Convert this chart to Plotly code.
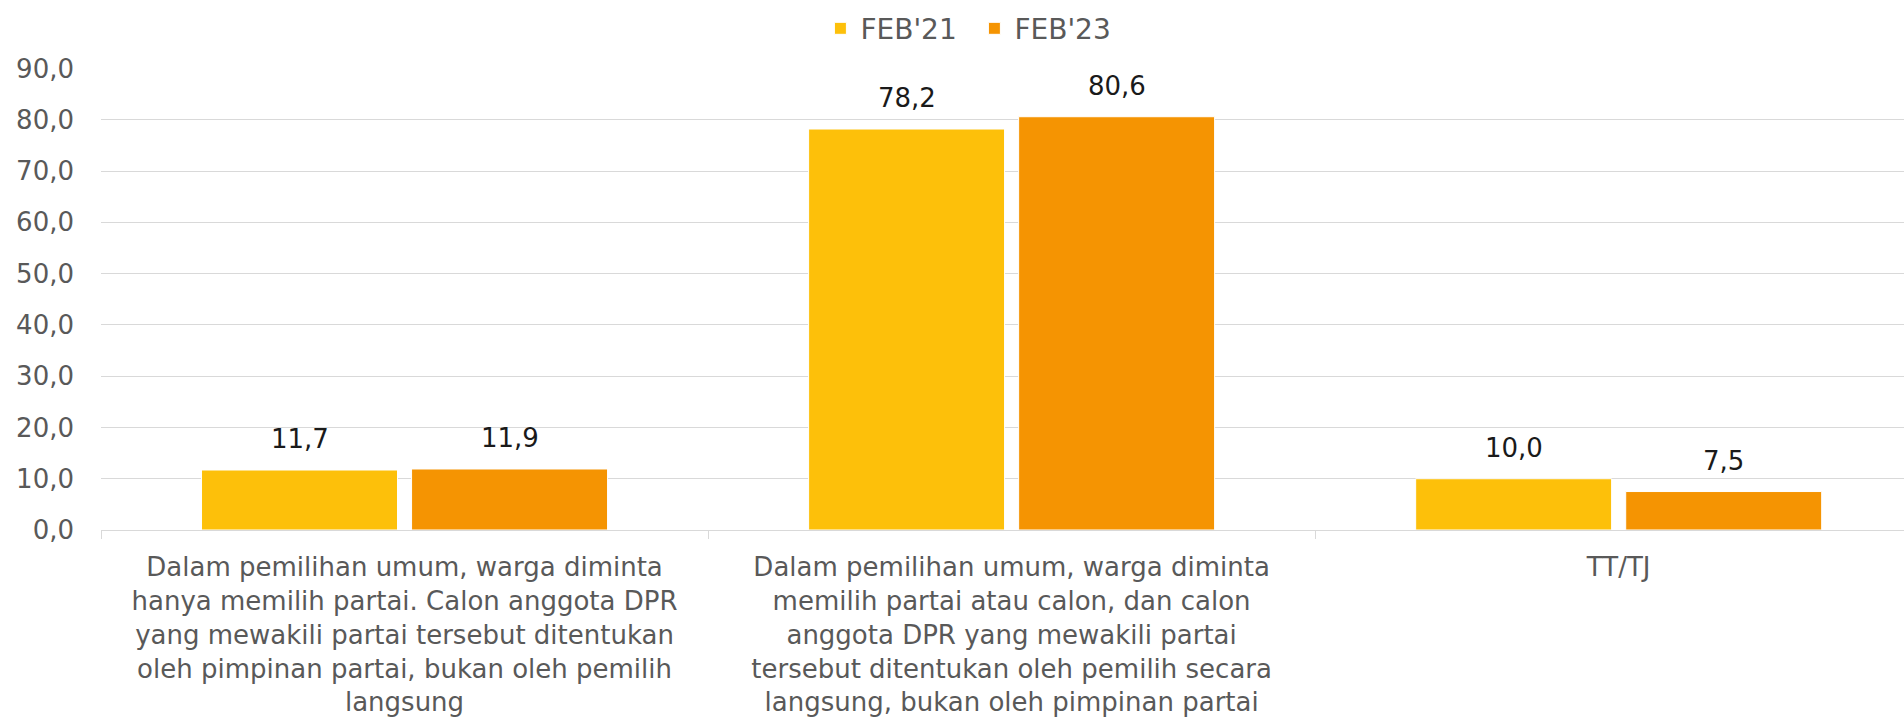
import plotly.graph_objects as go

categories = [
    "Dalam pemilihan umum, warga diminta<br>hanya memilih partai. Calon anggota DPR<br>yang mewakili partai tersebut ditentukan<br>oleh pimpinan partai, bukan oleh pemilih<br>langsung",
    "Dalam pemilihan umum, warga diminta<br>memilih partai atau calon, dan calon<br>anggota DPR yang mewakili partai<br>tersebut ditentukan oleh pemilih secara<br>langsung, bukan oleh pimpinan partai",
    "TT/TJ",
]
feb21 = [11.7, 78.2, 10.0]
feb23 = [11.9, 80.6, 7.5]
y_ticks = [0, 10, 20, 30, 40, 50, 60, 70, 80, 90]

FONT = "'DejaVu Sans', sans-serif"
GREY = "#595959"
LABEL = "#1a1a1a"

series = [("FEB'21", feb21, "#FDC00A", -105), ("FEB'23", feb23, "#F59402", 105)]

fig = go.Figure()
for name, vals, color, _ in series:
    fig.add_trace(go.Bar(
        name=name, x=categories, y=vals,
        marker=dict(color=color, line=dict(color="white", width=1)),
        hovertemplate="%{y:.1f}<extra>" + name + "</extra>",
    ))

# value labels above each bar, lifted a little off the bar top
for name, vals, color, dx in series:
    for cat, v in zip(categories, vals):
        fig.add_annotation(
            x=cat, y=v, xref="x", yref="y",
            text=f"{v:.1f}".replace(".", ","),
            showarrow=False, xanchor="center", yanchor="bottom",
            xshift=dx, yshift=14,
            font=dict(family=FONT, size=26, color=LABEL),
        )

fig.update_layout(
    width=1904, height=725,
    margin=dict(l=101, r=0, t=64, b=195),
    paper_bgcolor="white", plot_bgcolor="white",
    separators=",.",
    barmode="group", bargap=0.308, bargroupgap=0.067,
    font=dict(family=FONT, size=26, color=GREY),
    legend=dict(
        orientation="h", x=0.399, xanchor="left",
        y=0.995, yanchor="top", yref="container",
        font=dict(family=FONT, size=28, color=GREY),
        itemwidth=30, entrywidth=109, traceorder="normal",
    ),
    showlegend=True,
)

fig.update_xaxes(
    type="category", range=[-0.5, 2.47], tickson="boundaries",
    ticks="outside", ticklen=8, tickcolor="#d9d9d9", tickwidth=1,
    showline=True, linecolor="#d9d9d9", linewidth=1,
    showgrid=False, ticklabelstandoff=14,
    tickfont=dict(family=FONT, size=26, color=GREY),
)
fig.update_yaxes(
    range=[0, 90], tickvals=y_ticks, tickformat=".1f",
    showgrid=True, gridcolor="#d9d9d9", gridwidth=1,
    zeroline=False, showline=False, ticks="", ticklabelstandoff=26,
    tickfont=dict(family=FONT, size=26, color=GREY),
)

fig.write_html("out.html")
